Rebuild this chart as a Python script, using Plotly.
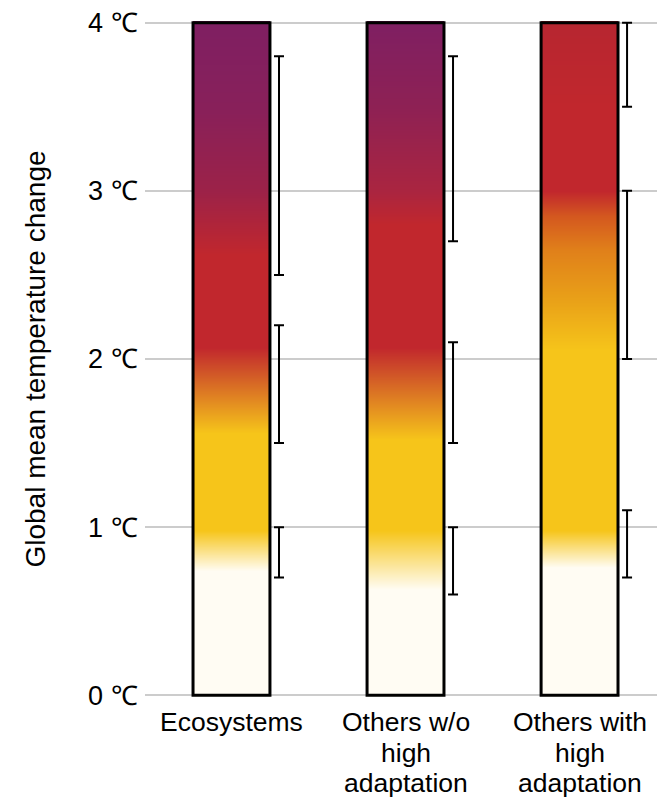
import plotly.graph_objects as go

# categories on the x axis (one entry per line of each label)
categories = [["Ecosystems"], ["Others w/o", "high", "adaptation"], ["Others with", "high", "adaptation"]]
temp_ticks = [0, 1, 2, 3, 4]
temp_labels = ["0 ℃", "1 ℃", "2 ℃", "3 ℃", "4 ℃"]

# colour stops of each ember: (temperature in degC, colour)
eco_stops = [(0.0, "#FFFCF3"), (0.74, "#FFFCF3"), (0.98, "#F6C51A"), (1.56, "#F6C51A"),
             (2.07, "#C1272D"), (2.62, "#C1272D"), (3.0, "#9C2248"), (3.5, "#88205A"),
             (4.0, "#7F1F62")]
wo_stops = [(0.0, "#FFFCF3"), (0.63, "#FFFCF3"), (0.98, "#F6C51A"), (1.52, "#F6C51A"),
            (2.07, "#C1272D"), (2.8, "#C1272D"), (3.0, "#AA2540"), (3.5, "#8E2154"),
            (4.0, "#7F1F62")]
with_stops = [(0.0, "#FFFCF3"), (0.76, "#FFFCF3"), (0.98, "#F6C51A"), (2.05, "#F6C51A"),
              (2.35, "#E9A118"), (2.65, "#E0801A"), (2.85, "#D4581F"), (3.0, "#C1272D"),
              (3.5, "#C1272D"), (4.0, "#B72630")]
all_stops = [eco_stops, wo_stops, with_stops]

# confidence ranges of each transition (low, high)
eco_low = [0.7, 1.5, 2.5]
eco_high = [1.0, 2.2, 3.8]
wo_low = [0.6, 1.5, 2.7]
wo_high = [1.0, 2.1, 3.8]
with_low = [0.7, 2.0, 3.5]
with_high = [1.1, 3.0, 4.0]
all_low = [eco_low, wo_low, with_low]
all_high = [eco_high, wo_high, with_high]

t_min, t_max = 0, 4
pad = 0.01  # keeps the 0 and 4 gridlines inside the plot area
bar_w = 0.442
err_off = 0.273
n = len(categories)

fig = go.Figure()

# the ember gradients
for i, stops in enumerate(all_stops):
    cs = [[(t - t_min) / (t_max - t_min), c] for t, c in stops]
    fig.add_trace(go.Heatmap(
        x=[i - bar_w / 2, i, i + bar_w / 2],
        y=[t_min, t_max],
        z=[[t_min, t_min], [t_max, t_max]],
        zmin=t_min, zmax=t_max,
        colorscale=cs, zsmooth="best",
        showscale=False, hoverinfo="skip"))

# black outline of each ember
fig.add_trace(go.Bar(
    x=list(range(n)), y=[t_max] * n, width=bar_w,
    marker=dict(color="rgba(0,0,0,0)", line=dict(color="black", width=3)),
    cliponaxis=False, showlegend=False, hoverinfo="skip"))

# confidence ranges
for i, (lo, hi) in enumerate(zip(all_low, all_high)):
    fig.add_trace(go.Scatter(
        x=[i + err_off] * len(lo), y=lo, mode="markers",
        marker=dict(size=1, color="rgba(0,0,0,0)"),
        error_y=dict(type="data", symmetric=False,
                     array=[h - l for l, h in zip(lo, hi)], arrayminus=[0] * len(lo),
                     color="black", thickness=2, width=5),
        showlegend=False, hoverinfo="skip"))

# category labels, one line at a time for a tighter line spacing
for i, lines in enumerate(categories):
    for k, line in enumerate(lines):
        fig.add_annotation(x=i, y=t_min, text=line, showarrow=False,
                           xanchor="center", yanchor="middle",
                           yshift=-(27 + 30.5 * k), font=dict(size=26.5))

# page body has an 8px margin, so the figure is 8px smaller than the window
fig.update_layout(
    width=657, height=790,
    margin=dict(l=137, r=0, t=13.3, b=101.3),
    paper_bgcolor="white", plot_bgcolor="white",
    font=dict(family="Liberation Sans, Arial, sans-serif", size=27, color="black"),
    showlegend=False,
)
fig.update_xaxes(
    range=[-0.497, 2.491], showticklabels=False,
    showgrid=False, zeroline=False, showline=False, automargin=False)
fig.update_yaxes(
    range=[t_min - pad, t_max + pad], tickvals=temp_ticks, ticktext=temp_labels,
    showgrid=True, gridcolor="#CCCCCC", gridwidth=2,
    zeroline=False, showline=False, automargin=False,
    ticks="outside", ticklen=1, tickcolor="rgba(0,0,0,0)",
    title=dict(text="Global mean temperature change", standoff=34, font=dict(size=28)))

fig.write_html("out.html")
